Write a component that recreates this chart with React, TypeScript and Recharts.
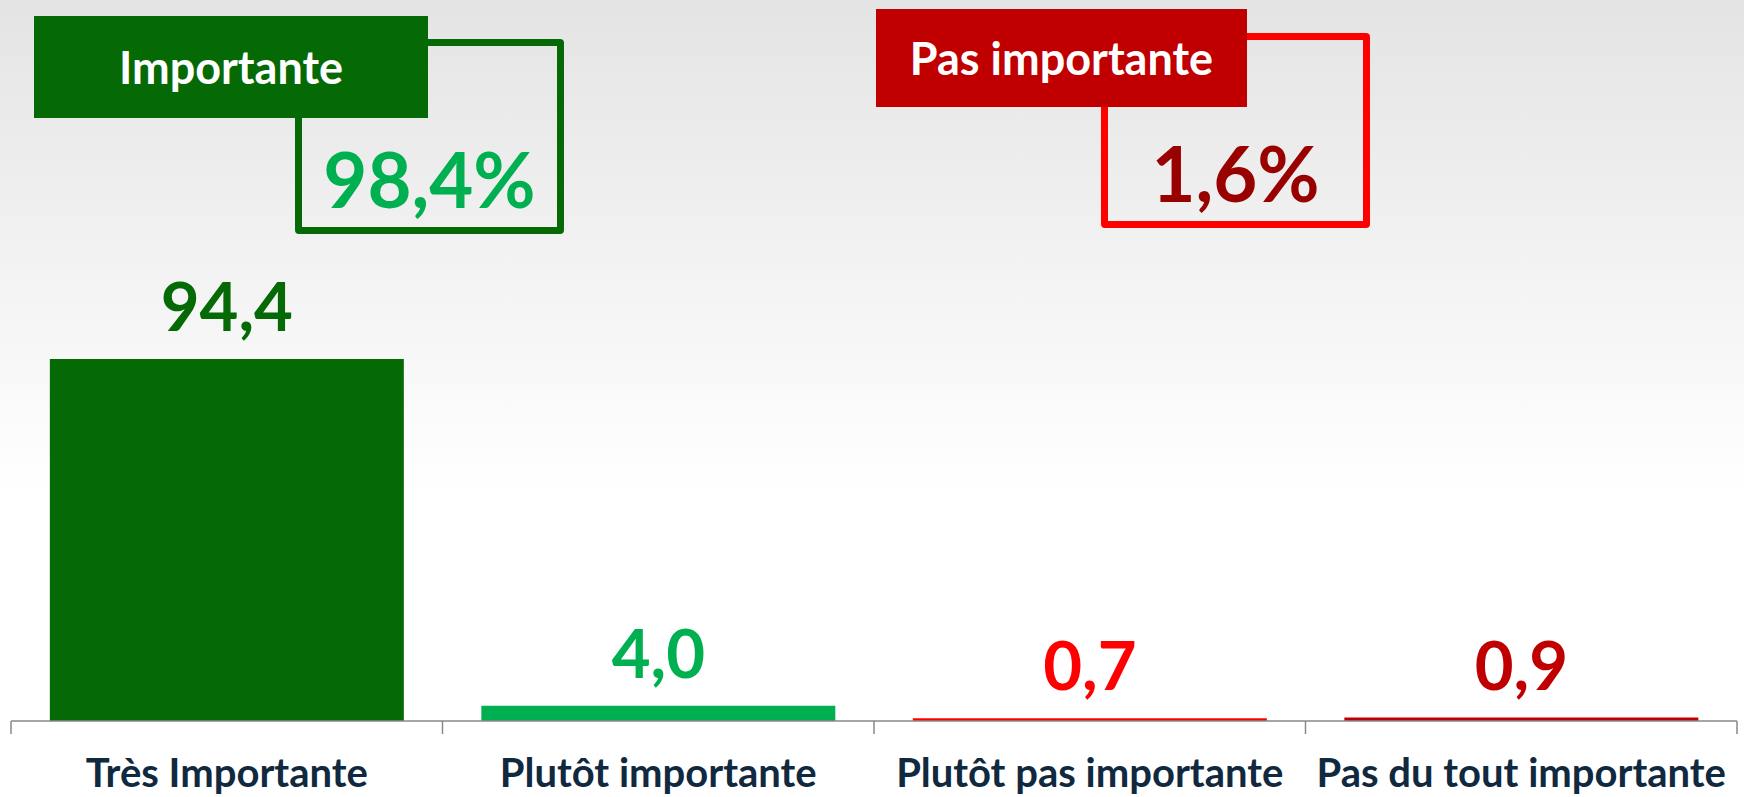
import React from "react";
import { Bar, BarChart, Cell, LabelList, XAxis, YAxis } from "recharts";

const categories = [
  "Très Importante",
  "Plutôt importante",
  "Plutôt pas importante",
  "Pas du tout importante",
];
const values = [94.4, 4.0, 0.7, 0.9];
const barColors = ["#056A05", "#00B050", "#FF0000", "#C00000"];
const groupLabels = ["Importante", "Pas importante"];

const W = 1744;
const H = 797;
const M = { top: 337.5, right: 7, left: 11, bottom: 0 };
const BAND = (W - M.left - M.right) / categories.length;
const FONT = "Lato, 'Open Sans', sans-serif";

const data = categories.map((name, i) => ({ name, value: values[i] }));

const fmt = (v: number) => v.toFixed(1).replace(".", ",");

const importantTotal = values[0] + values[1];
const notImportantTotal = values[2] + values[3];

function ValueLabel(props: any) {
  const { x, y, width, value, index } = props;
  return (
    <text
      x={x + width / 2}
      y={y - 28}
      textAnchor="middle"
      fill={barColors[index]}
      fontFamily={FONT}
      fontWeight={700}
      fontSize={67}
    >
      {fmt(value)}
    </text>
  );
}

function CategoryTick(props: any) {
  const { x, y, payload, index } = props;
  const left = x - BAND / 2;
  const right = x + BAND / 2;
  return (
    <g>
      <line x1={left} y1={y} x2={left} y2={y + 13} stroke="#898989" strokeWidth={1.5} />
      {index === categories.length - 1 && (
        <line x1={right} y1={y} x2={right} y2={y + 13} stroke="#898989" strokeWidth={1.5} />
      )}
      <text
        x={x}
        y={y + 66}
        textAnchor="middle"
        fill="#10293F"
        fontFamily={FONT}
        fontWeight={700}
        fontSize={40}
      >
        {payload.value}
      </text>
    </g>
  );
}

function GroupBox({
  label,
  total,
  fillColor,
  borderColor,
  textColor,
  fill,
  outline,
}: {
  label: string;
  total: number;
  fillColor: string;
  borderColor: string;
  textColor: string;
  fill: { x: number; y: number; w: number; h: number };
  outline: { x: number; y: number; w: number; h: number };
}) {
  return (
    <>
      <div
        style={{
          position: "absolute",
          left: outline.x,
          top: outline.y,
          width: outline.w,
          height: outline.h,
          boxSizing: "border-box",
          border: `7px solid ${borderColor}`,
          borderRadius: 4,
          display: "flex",
          alignItems: "flex-end",
          justifyContent: "center",
          paddingBottom: 10,
          fontFamily: FONT,
          fontWeight: 700,
          fontSize: 76,
          color: textColor,
          lineHeight: 1,
        }}
      >
        {fmt(total)}%
      </div>
      <div
        style={{
          position: "absolute",
          left: fill.x,
          top: fill.y,
          width: fill.w,
          height: fill.h,
          background: fillColor,
          color: "#ffffff",
          display: "flex",
          alignItems: "center",
          justifyContent: "center",
          fontFamily: FONT,
          fontWeight: 700,
          fontSize: 45,
        }}
      >
        {label}
      </div>
    </>
  );
}

export default function App() {
  return (
    <div
      style={{
        position: "absolute",
        left: 0,
        top: 0,
        width: W,
        height: H,
        overflow: "hidden",
        background: "linear-gradient(to bottom, #e4e4e4 0%, #ffffff 62%, #ffffff 100%)",
      }}
    >
      <BarChart width={W} height={H} data={data} margin={M} barCategoryGap="9%">
        <XAxis
          dataKey="name"
          height={76}
          tickSize={0}
          tickMargin={0}
          tickLine={false}
          axisLine={{ stroke: "#898989", strokeWidth: 1.5 }}
          tick={<CategoryTick />}
          interval={0}
        />
        <YAxis hide domain={[0, 100]} />
        <Bar dataKey="value" isAnimationActive={false}>
          {data.map((d, i) => (
            <Cell key={d.name} fill={barColors[i]} />
          ))}
          <LabelList dataKey="value" content={<ValueLabel />} />
        </Bar>
      </BarChart>
      <GroupBox
        label={groupLabels[0]}
        total={importantTotal}
        fillColor="#056A05"
        borderColor="#056A05"
        textColor="#00B050"
        fill={{ x: 34, y: 16, w: 394, h: 102 }}
        outline={{ x: 295, y: 39, w: 269, h: 195 }}
      />
      <GroupBox
        label={groupLabels[1]}
        total={notImportantTotal}
        fillColor="#C00000"
        borderColor="#FF0000"
        textColor="#990000"
        fill={{ x: 876, y: 9, w: 371, h: 98 }}
        outline={{ x: 1101, y: 33, w: 269, h: 195 }}
      />
    </div>
  );
}
